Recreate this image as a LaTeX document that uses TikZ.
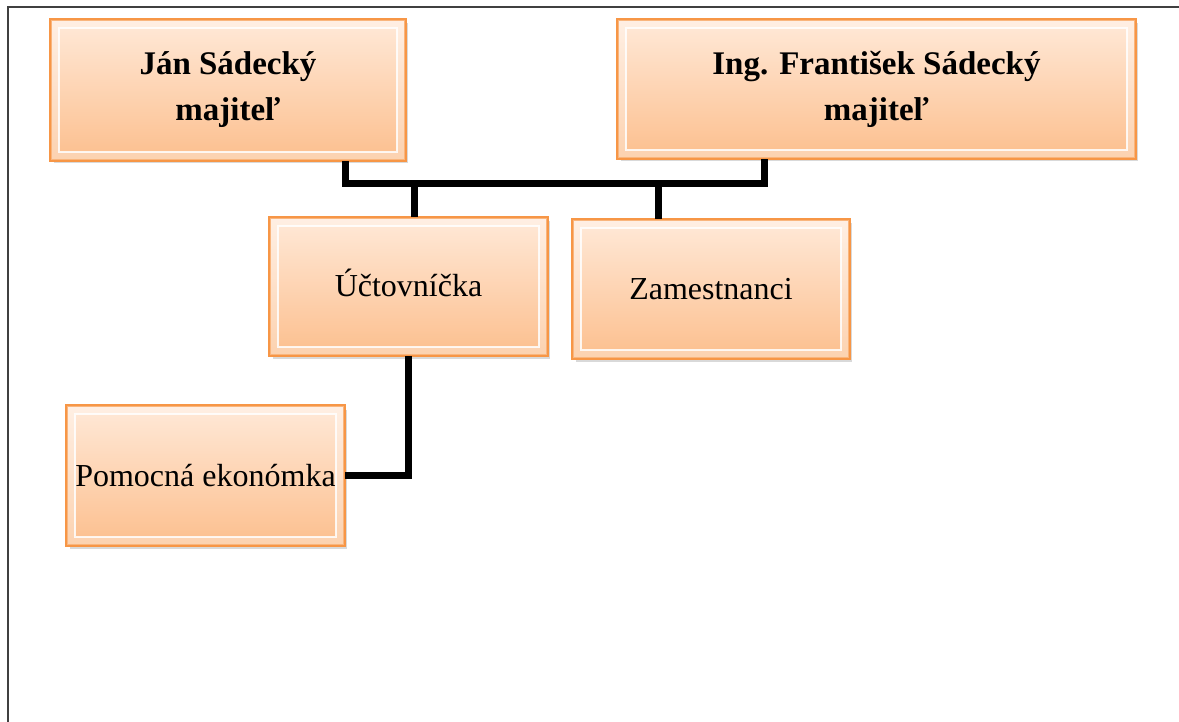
\documentclass[tikz,border=0pt]{standalone}
\usepackage{fontspec}
\setmainfont{Liberation Serif}
\usetikzlibrary{shadows}
\definecolor{boxedge}{HTML}{F79646}
\definecolor{boxtop}{HTML}{FFE9D8}
\definecolor{boxbot}{HTML}{FCBF8E}
\definecolor{framec}{HTML}{404040}
\tikzset{
  obox/.style={draw=boxedge, line width=2.2pt, top color=boxtop, bottom color=boxbot,
    inner sep=0pt, align=center, text=black,
    drop shadow={shadow xshift=2.5pt, shadow yshift=-3.5pt, opacity=0.25, fill=black!60}},
  boss/.style={obox, font=\fontsize{33}{46}\selectfont\bfseries},
  staff/.style={obox, font=\fontsize{32}{38}\selectfont, text height=21pt, text depth=0pt},
  conn/.style={draw=black, line width=7pt, line join=miter, line cap=butt},
  frameline/.style={draw=framec, line width=1.2pt}
}
\newcommand\bevelbox[1]{%
  \fill[white, opacity=.3, even odd rule]
    ([shift={(1.2,1.2)}]#1.north west) rectangle ([shift={(-1.2,-1.2)}]#1.south east)
    ([shift={(9,9)}]#1.north west) rectangle ([shift={(-9,-9)}]#1.south east);
  \draw[white, opacity=.85, line width=1.6pt]
    ([shift={(9,9)}]#1.north west) rectangle ([shift={(-9,-9)}]#1.south east);
  \draw[boxedge, line width=2.2pt] (#1.north west) rectangle (#1.south east);
}
\begin{document}
\begin{tikzpicture}[x=1pt, y=-1pt]
\useasboundingbox (0,0) rectangle (1179,722);
\draw[frameline] (8,722) -- (8,7) -- (1179,7);

\node[boss, minimum width=354pt, minimum height=140pt] (jan) at (228,90) {Ján Sádecký\\majiteľ};
\bevelbox{jan}
\node[boss, minimum width=517pt, minimum height=138pt] (fran) at (876.5,89) {Ing. František Sádecký\\majiteľ};
\bevelbox{fran}
\node[staff, minimum width=277pt, minimum height=137pt] (uct) at (408.5,286.5) {Účtovníčka};
\bevelbox{uct}
\node[staff, minimum width=276pt, minimum height=138pt] (zam) at (711,289) {Zamestnanci};
\bevelbox{zam}
\node[staff, minimum width=277pt, minimum height=139pt] (pom) at (205.5,475.5) {Pomocná ekonómka};
\bevelbox{pom}

\coordinate (bus) at (0,184);
\draw[conn] ([xshift=117pt]jan.south) |- ([xshift=-112.5pt]fran.south |- bus) -- ([xshift=-112.5pt]fran.south);
\draw[conn] ([xshift=5.5pt]uct.north) -- ([xshift=5.5pt]uct.north |- bus);
\draw[conn] ([xshift=-53pt]zam.north) -- ([xshift=-53pt]zam.north |- bus);
\draw[conn] (uct.south) |- (pom.east);
\end{tikzpicture}
\end{document}
